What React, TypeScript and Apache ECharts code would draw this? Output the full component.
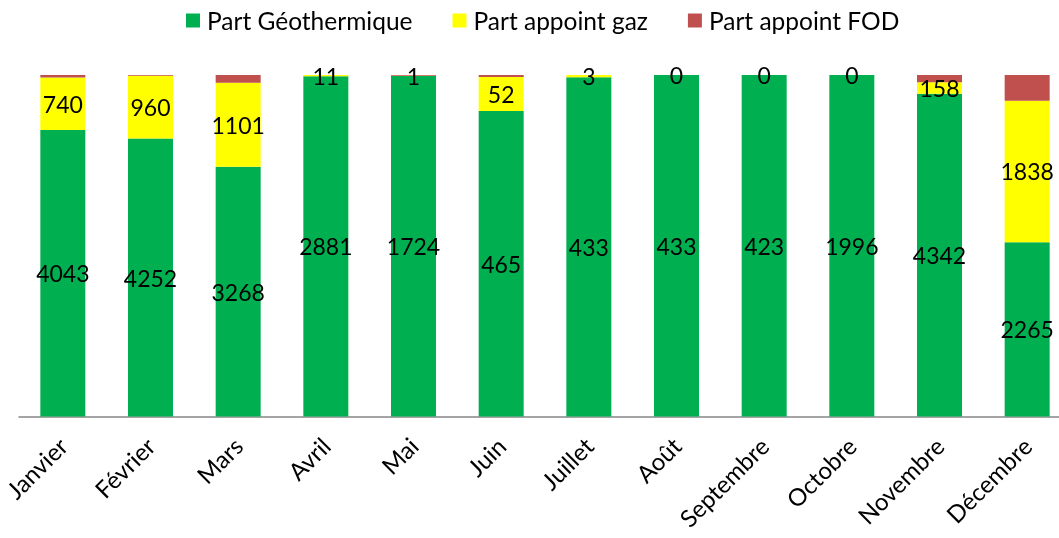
import React, { useEffect, useRef } from "react";
import * as echarts from "echarts";

const months = ["Janvier", "Février", "Mars", "Avril", "Mai", "Juin", "Juillet", "Août", "Septembre", "Octobre", "Novembre", "Décembre"];
const geothermie = [4043, 4252, 3268, 2881, 1724, 465, 433, 433, 423, 1996, 4342, 2265];
const gaz = [740, 960, 1101, 11, 1, 52, 3, 0, 0, 0, 158, 1838];
const fod = [35, 12, 100, 0, 4, 3, 0, 0, 0, 0, 96, 334];

const FONT = "Lato";

export default function App() {
  const ref = useRef<HTMLDivElement>(null);
  useEffect(() => {
    if (!ref.current) return;
    const chart = echarts.init(ref.current, null, { renderer: "svg" });
    const totals = months.map((_, i) => geothermie[i] + gaz[i] + fod[i]);
    const pct = (arr: number[]) => arr.map((v, i) => (v / totals[i]) * 100);
    const labelStyle = (raw: number[]) => ({
      show: true,
      position: "inside" as const,
      color: "#000",
      fontSize: 23,
      fontFamily: FONT,
      formatter: (p: any) => String(raw[p.dataIndex]),
    });
    chart.setOption({
      animation: false,
      textStyle: { fontFamily: FONT },
      legend: {
        top: 3,
        left: 181,
        itemWidth: 14,
        itemHeight: 14,
        itemGap: 40,
        icon: "rect",
        textStyle: { fontSize: 24.5, color: "#000", fontFamily: FONT, padding: [0, 0, 0, 2] },
        data: ["Part Géothermique", "Part appoint gaz", "Part appoint FOD"],
      },
      grid: { left: 19, width: 1052, top: 75, bottom: 121.5, containLabel: false, outerBoundsMode: "none" },
      xAxis: {
        type: "category",
        data: months,
        axisLine: { lineStyle: { color: "#868686", width: 1.5 } },
        axisTick: { show: false },
        axisLabel: { interval: 0, rotate: 45, fontSize: 24, color: "#000", fontFamily: FONT, margin: 25 },
      },
      yAxis: { type: "value", min: 0, max: 100, show: false, splitLine: { show: false } },
      series: [
        { name: "Part Géothermique", type: "bar", stack: "t", barWidth: 45, data: pct(geothermie), itemStyle: { color: "#00B050" }, label: labelStyle(geothermie) },
        { name: "Part appoint gaz", type: "bar", stack: "t", barWidth: 45, data: pct(gaz), itemStyle: { color: "#FFFF00" }, label: labelStyle(gaz) },
        { name: "Part appoint FOD", type: "bar", stack: "t", barWidth: 45, data: pct(fod), itemStyle: { color: "#C0504D" } },
      ],
    });
    return () => chart.dispose();
  }, []);
  return <div ref={ref} style={{ position: "fixed", left: 0, top: 0, width: 1059, height: 538 }} />;
}
